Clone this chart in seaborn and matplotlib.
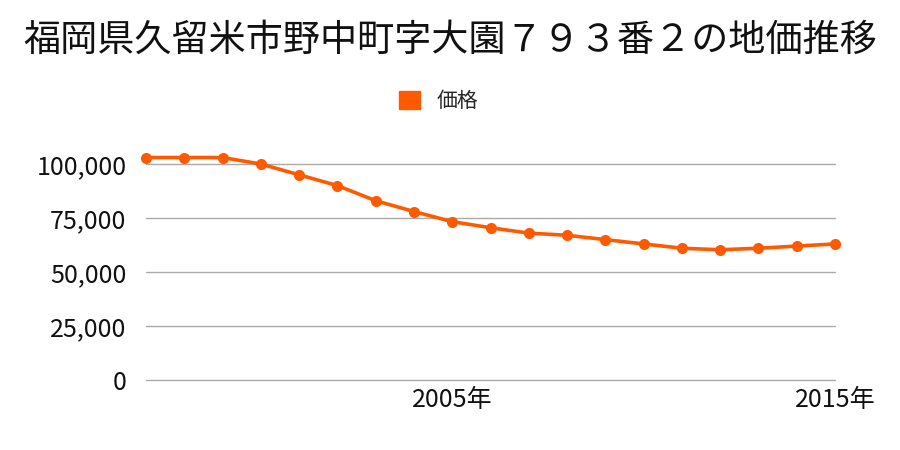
import matplotlib
matplotlib.use("Agg")
import matplotlib.pyplot as plt
import seaborn as sns
import pandas as pd
from matplotlib.patches import Patch
from matplotlib.ticker import FuncFormatter, FixedLocator

years = [1997, 1998, 1999, 2000, 2001, 2002, 2003, 2004, 2005, 2006,
         2007, 2008, 2009, 2010, 2011, 2012, 2013, 2014, 2015]
prices = [103000, 103000, 103000, 100000, 95000, 90000, 83000, 78000, 73300, 70500,
          68000, 67000, 65000, 63000, 61000, 60300, 61000, 62000, 63000]
x_ticks = [2005, 2015]
y_ticks = [0, 25000, 50000, 75000, 100000]
title = "福岡県久留米市野中町字大園７９３番２の地価推移"
series_name = "価格"

sns.set_theme(style="white")
plt.rcParams['font.family'] = ['Noto Sans CJK JP', 'DejaVu Sans']

color = "#FF5A00"
df = pd.DataFrame({"year": years, "price": prices})

fig = plt.figure(figsize=(9, 4.5), dpi=100)
ax = fig.add_axes([146/900, 1 - 380/450, (835 - 146)/900, (380 - 142.4)/450])

sns.lineplot(data=df, x="year", y="price", ax=ax, color=color, linewidth=2.6,
             marker="o", markersize=8, markeredgewidth=0, clip_on=False, legend=False)

ax.set_xlim(1997, 2015)
ax.set_ylim(0, 110000)
ax.yaxis.set_major_locator(FixedLocator(y_ticks))
ax.xaxis.set_major_locator(FixedLocator(x_ticks))
ax.yaxis.set_major_formatter(FuncFormatter(lambda v, p: f"{int(v):,}"))
ax.xaxis.set_major_formatter(FuncFormatter(lambda v, p: f"{int(v)}年"))
ax.grid(axis="y", color="#aaaaaa", linewidth=1)
ax.grid(axis="x", visible=False)
ax.set_axisbelow(True)
for gl in ax.get_ygridlines():
    gl.set_clip_on(False)
for s in ax.spines.values():
    s.set_visible(False)
ax.tick_params(axis="y", length=0, pad=14, labelsize=18, labelcolor="#111111")
ax.tick_params(axis="x", length=0, pad=5, labelsize=18, labelcolor="#111111")
ax.set_xlabel("")
ax.set_ylabel("")

fig.text(0.5, 1 - 40/450, title, ha="center", va="center", fontsize=26.7, color="#111111")

handle = Patch(facecolor=color, edgecolor=color)
fig.legend([handle], [series_name], loc="center", bbox_to_anchor=(439/900, 1 - 101/450),
           frameon=False, fontsize=15, handlelength=1.0, handleheight=1.0, handletextpad=0.8)

fig.savefig("out.png", dpi=100)
